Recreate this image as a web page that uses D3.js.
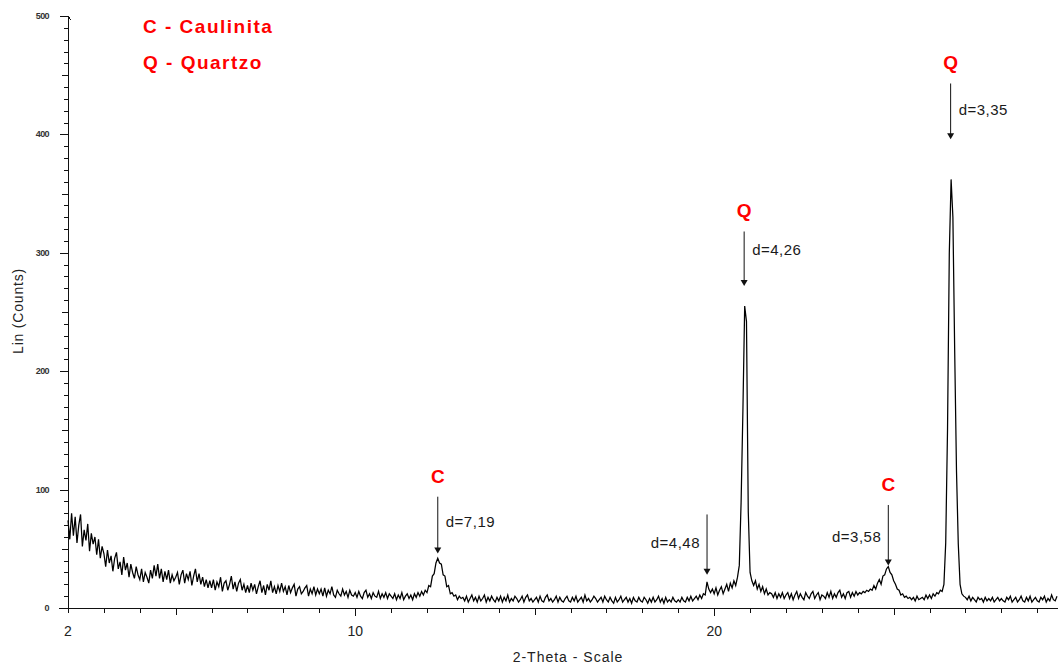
<!DOCTYPE html>
<html>
<head>
<meta charset="utf-8">
<script src="https://cdn.jsdelivr.net/npm/d3@7/dist/d3.min.js"></script>
<style>
  html, body { margin: 0; padding: 0; background: #fff; }
  svg { display: block; }
  text { font-family: "Liberation Sans", Arial, sans-serif; }
</style>
</head>
<body>
<svg id="chart" width="1058" height="666"></svg>
<script>
// Diffractogram scan grid (degrees 2-theta)
const scanStart = 2;
const scanStep = 0.05;

// Measured intensity (counts), one value per scan step from 2.00 to 29.55
const counts = [
  // 2.00 - 2.95
  74, 58, 80, 61, 77, 55, 70, 79, 52, 66, 57, 71, 48, 63, 54, 60, 45, 58, 42, 52,
  // 3.00 - 3.95
  46, 35, 49, 38, 44, 31, 42, 47, 33, 39, 28, 43, 32, 38, 26, 37, 30, 25, 35, 28,
  // 4.00 - 4.95
  24, 33, 22, 30, 26, 21, 32, 25, 36, 27, 37, 25, 33, 22, 31, 24, 32, 21, 28, 23,
  // 5.00 - 5.95
  26, 30, 20, 28, 32, 21, 29, 24, 31, 19, 27, 33, 22, 29, 20, 26, 18, 24, 17, 23,
  // 6.00 - 6.95
  17, 24, 15, 22, 18, 26, 14, 21, 23, 15, 20, 27, 16, 22, 14, 21, 24, 15, 20, 13,
  // 7.00 - 7.95
  19, 13, 21, 15, 20, 12, 18, 23, 13, 19, 11, 20, 15, 23, 13, 18, 12, 19, 14, 21,
  // 8.00 - 8.95
  14, 18, 11, 19, 13, 17, 20, 10, 16, 18, 12, 14, 17, 19, 10, 16, 12, 18, 11, 16,
  // 9.00 - 9.95
  12, 16, 10, 17, 10, 15, 12, 18, 11, 9, 15, 12, 10, 16, 11, 14, 9, 15, 11, 10,
  // 10.00 - 10.95
  13, 9, 14, 10, 8, 13, 15, 9, 12, 8, 13, 10, 9, 14, 8, 12, 9, 13, 8, 12,
  // 11.00 - 11.95
  10, 8, 12, 7, 11, 8, 13, 7, 10, 12, 8, 11, 7, 12, 9, 13, 10, 14, 11, 15,
  // 12.00 - 12.95 (kaolinite 001)
  13, 19, 18, 27, 29, 38, 42, 38, 37, 28, 27, 18, 19, 12, 13, 10, 11, 7, 10, 8,
  // 13.00 - 13.95
  9, 6, 10, 5, 8, 11, 6, 9, 5, 10, 6, 8, 11, 5, 9, 6, 10, 7, 5, 9,
  // 14.00 - 14.95
  6, 10, 5, 9, 6, 11, 5, 8, 6, 10, 8, 5, 7, 10, 5, 9, 11, 6, 8, 5,
  // 15.00 - 15.95
  7, 9, 5, 10, 6, 5, 9, 11, 6, 8, 5, 7, 10, 5, 9, 6, 5, 8, 10, 6,
  // 16.00 - 16.95
  5, 9, 6, 10, 5, 7, 9, 5, 11, 6, 8, 5, 7, 10, 8, 5, 7, 9, 5, 10,
  // 17.00 - 17.95
  7, 5, 9, 6, 4, 9, 5, 7, 10, 5, 7, 9, 5, 8, 4, 9, 6, 5, 9, 6,
  // 18.00 - 18.95
  5, 9, 7, 4, 8, 5, 9, 5, 7, 10, 5, 8, 4, 9, 5, 7, 5, 9, 6, 5,
  // 19.00 - 19.95
  7, 5, 9, 6, 5, 9, 6, 10, 6, 8, 10, 7, 11, 8, 12, 11, 22, 16, 13, 16,
  // 20.00 - 20.95 (quartz 100)
  12, 17, 11, 15, 18, 12, 16, 20, 14, 21, 17, 23, 19, 26, 36, 89, 166, 255, 242, 81,
  // 21.00 - 21.95
  30, 23, 19, 23, 16, 20, 14, 18, 12, 16, 11, 13, 12, 9, 13, 8, 12, 9, 13, 8,
  // 22.00 - 22.95
  11, 13, 8, 12, 7, 11, 14, 8, 12, 9, 7, 13, 10, 8, 12, 14, 8, 11, 13, 7,
  // 23.00 - 23.95
  11, 10, 8, 13, 9, 14, 8, 12, 9, 13, 15, 9, 12, 8, 13, 14, 9, 13, 10, 14,
  // 24.00 - 24.95 (kaolinite 002)
  11, 13, 12, 14, 13, 15, 14, 16, 15, 19, 16, 21, 24, 20, 27, 28, 33, 35, 30, 28,
  // 25.00 - 25.95
  23, 20, 16, 15, 11, 12, 9, 10, 8, 9, 7, 9, 6, 10, 7, 8, 9, 7, 11, 8,
  // 26.00 - 26.95 (quartz 101)
  11, 8, 12, 10, 13, 12, 15, 14, 20, 55, 150, 300, 362, 330, 217, 116, 54, 20, 12, 10,
  // 27.00 - 27.95
  9, 7, 10, 6, 9, 7, 5, 9, 7, 8, 5, 9, 6, 8, 6, 9, 5, 7, 9, 6,
  // 28.00 - 28.95
  8, 6, 5, 9, 7, 10, 5, 7, 9, 5, 7, 10, 6, 5, 9, 6, 10, 5, 7, 9,
  // 29.00 - 29.55
  6, 5, 9, 7, 10, 5, 8, 6, 11, 7, 6, 10
];

// Phase key
const phaseKey = ["C - Caulinita", "Q - Quartzo"];

// Indexed reflections: d-spacing (Å), phase letter, arrow top / tip (counts), label anchor (counts)
const dSpacing   = [7.19, 4.48, 4.26, 3.58, 3.35];
const phase      = ["C", "", "Q", "C", "Q"];
const arrowTop   = [94, 79, 318, 87, 443];
const arrowTip   = [46, 28, 272, 36, 396];
const labelAt    = [73, 55, 302, 60, 421];
const labelSide  = ["right", "left", "right", "left", "right"];

// Axis ticks
const xTickLabels = [2, 10, 20];
const yTickLabels = [0, 100, 200, 300, 400, 500];

const wavelength = 1.5406; // Cu K-alpha, Å
const braggAngle = d => 2 * Math.asin(wavelength / (2 * d)) * 180 / Math.PI;

const svg = d3.select("#chart");

const x = d3.scaleLinear().domain([2, 29.55]).range([68, 1057]);
const y = d3.scaleLinear().domain([0, 500]).range([608, 16]);

const ink = "#111";

// ---- axes ----
const axisG = svg.append("g").attr("stroke", ink).attr("stroke-width", 1).attr("shape-rendering", "crispEdges");

// x axis line and ticks (every degree)
axisG.append("line").attr("x1", 59).attr("x2", 1058).attr("y1", y(0)).attr("y2", y(0));
const xTicks = d3.range(2, 30, 1);
axisG.selectAll("line.xt").data(xTicks).join("line")
  .attr("class", "xt")
  .attr("x1", d => Math.round(x(d)) + 0.5).attr("x2", d => Math.round(x(d)) + 0.5)
  .attr("y1", y(0))
  .attr("y2", d => y(0) + (d % 10 === 0 ? 8 : d % 5 === 0 ? 7 : 5));

// y axis line and ticks (every 10 counts)
axisG.append("line").attr("x1", 68.5).attr("x2", 68.5).attr("y1", y(500)).attr("y2", y(0) + 1);
const yTicks = d3.range(0, 501, 10);
axisG.selectAll("line.yt").data(yTicks).join("line")
  .attr("class", "yt")
  .attr("y1", d => Math.round(y(d)) + 0.5).attr("y2", d => Math.round(y(d)) + 0.5)
  .attr("x2", 68.5)
  .attr("x1", d => 68.5 - (d % 100 === 0 ? 9 : d % 50 === 0 ? 7 : 5));
// small hook at the top of the y axis
axisG.append("line").attr("x1", 68.5).attr("x2", 71).attr("y1", y(500) + 1).attr("y2", y(500) + 4);

// tick labels
svg.append("g").selectAll("text").data(yTickLabels).join("text")
  .attr("x", 49).attr("y", d => y(d) + 3)
  .attr("text-anchor", "end")
  .attr("font-size", 9).attr("font-weight", "bold").attr("letter-spacing", -0.6)
  .attr("fill", "#333")
  .text(d => d);

svg.append("g").selectAll("text").data(xTickLabels).join("text")
  .attr("x", d => x(d)).attr("y", 636)
  .attr("text-anchor", "middle")
  .attr("font-size", 14).attr("fill", "#222")
  .text(d => d);

// axis titles
svg.append("text")
  .attr("x", 568).attr("y", 662)
  .attr("text-anchor", "middle").attr("font-size", 14).attr("letter-spacing", 1)
  .attr("fill", "#222").text("2-Theta - Scale");

svg.append("text")
  .attr("transform", "translate(23,311) rotate(-90)")
  .attr("text-anchor", "middle").attr("font-size", 14).attr("letter-spacing", 0.8)
  .attr("fill", "#222").text("Lin (Counts)");

// ---- diffraction pattern ----
const pattern = counts.map((c, i) => [scanStart + i * scanStep, c]);
const line = d3.line()
  .x(d => x(d[0]))
  .y(d => y(d[1]))
  .curve(d3.curveLinear);

svg.append("path")
  .datum(pattern)
  .attr("fill", "none")
  .attr("stroke", "#000")
  .attr("stroke-width", 1.25)
  .attr("stroke-linejoin", "miter")
  .attr("d", line);

// ---- reflection markers ----
const marks = dSpacing.map((d, i) => ({
  d, angle: braggAngle(d), phase: phase[i],
  top: arrowTop[i], tip: arrowTip[i], at: labelAt[i], side: labelSide[i]
}));

const mg = svg.append("g");
marks.forEach(m => {
  const ax = x(m.angle);
  mg.append("line")
    .attr("x1", ax).attr("x2", ax)
    .attr("y1", y(m.top)).attr("y2", y(m.tip) - 4)
    .attr("stroke", ink).attr("stroke-width", 1);
  const ty = y(m.tip);
  mg.append("path")
    .attr("d", `M${ax - 3.5},${ty - 6}L${ax + 3.5},${ty - 6}L${ax},${ty}Z`)
    .attr("fill", ink);
  if (m.phase) {
    mg.append("text")
      .attr("x", ax).attr("y", y(m.top) - 14)
      .attr("text-anchor", "middle")
      .attr("font-size", 19).attr("font-weight", "bold")
      .attr("fill", "#ff0000")
      .text(m.phase);
  }
  mg.append("text")
    .attr("x", m.side === "right" ? ax + 8 : ax - 7)
    .attr("y", y(m.at) + 5)
    .attr("text-anchor", m.side === "right" ? "start" : "end")
    .attr("font-size", 15).attr("letter-spacing", 0.5)
    .attr("fill", "#1a1a1a")
    .text("d=" + m.d.toFixed(2).replace(".", ","));
});

// ---- phase key ----
svg.append("g").selectAll("text").data(phaseKey).join("text")
  .attr("x", 143).attr("y", (d, i) => 33 + i * 36)
  .attr("font-size", 19).attr("font-weight", "bold").attr("letter-spacing", 1.5)
  .attr("fill", "#ff0000")
  .text(d => d);
</script>
</body>
</html>
